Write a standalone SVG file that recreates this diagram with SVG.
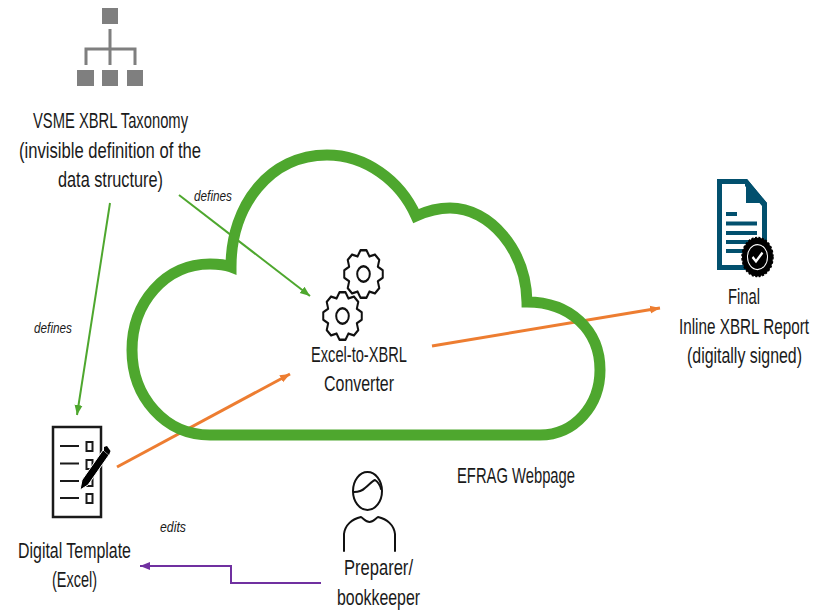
<svg xmlns="http://www.w3.org/2000/svg" width="823" height="610" viewBox="0 0 823 610">
<style>
text{font-family:"Liberation Sans",Arial,sans-serif;font-size:21.5px;fill:#1a1a1a;text-anchor:start}
.i{font-size:15.5px;font-style:italic}
.g{fill:none;stroke:#4ea72e;stroke-width:2}
.o{fill:none;stroke:#ed7d31;stroke-width:3}
.p{fill:none;stroke:#7030a0;stroke-width:2}
.ink{fill:none;stroke:#111;stroke-width:2;stroke-linejoin:round;stroke-linecap:round}
.tx{fill:#7f7f7f}
.doc{fill:#02506e}
</style>
<defs>
<marker id="ag" markerUnits="userSpaceOnUse" markerWidth="11" markerHeight="10" refX="10" refY="5" orient="auto"><path d="M0,1 L10,5 L0,9 Z" fill="#4ea72e"/></marker>
<marker id="ao" markerUnits="userSpaceOnUse" markerWidth="11" markerHeight="10" refX="10" refY="5" orient="auto"><path d="M0,1 L10,5 L0,9 Z" fill="#ed7d31"/></marker>
<marker id="ap" markerUnits="userSpaceOnUse" markerWidth="11" markerHeight="10" refX="10" refY="5" orient="auto"><path d="M0,1 L10,5 L0,9 Z" fill="#7030a0"/></marker>
<g id="gear">
<polygon class="ink" points="19.26,3.05 14.32,5.93 15.78,11.46 11.46,15.78 5.93,14.32 3.05,19.26 -3.05,19.26 -5.93,14.32 -11.46,15.78 -15.78,11.46 -14.32,5.93 -19.26,3.05 -19.26,-3.05 -14.32,-5.93 -15.78,-11.46 -11.46,-15.78 -5.93,-14.32 -3.05,-19.26 3.05,-19.26 5.93,-14.32 11.46,-15.78 15.78,-11.46 14.32,-5.93 19.26,-3.05"/>
<circle class="ink" r="6.3"/>
</g>
</defs>
<g id="connectors">
<path class="g" d="M110,203 L77,415" marker-end="url(#ag)"/>
<path class="g" d="M179,195 L310,296" marker-end="url(#ag)"/>
<path class="o" d="M117,467 L290,374" marker-end="url(#ao)"/>
<path class="o" d="M432,346 L660,308" marker-end="url(#ao)"/>
<path class="p" d="M321,583 H231 V566 H140" marker-end="url(#ap)"/>
</g>
<g id="cloud">
<path fill="none" stroke="#4ea72e" stroke-width="11" stroke-linejoin="miter" stroke-miterlimit="10" d="M210,435 H540 C575,435 600,405 600,370 C600,330 570,302 527,302 C526,250 490,208 450,208 C438,208 427,211 416,216 C400,180 365,155 327,155 C270,155 231,205 231,267 C226,265 215,264 210,264 C165,264 132,303 132,350 C132,397 165,435 210,435 Z"/>
<text transform="translate(457,483) scale(.72,1)" textLength="163.900" lengthAdjust="spacingAndGlyphs">EFRAG Webpage</text>
</g>
<g id="taxonomy">
<rect class="tx" x="102" y="8" width="16" height="16"/>
<rect class="tx" x="77" y="70" width="17" height="16"/>
<rect class="tx" x="102" y="70" width="16" height="16"/>
<rect class="tx" x="127" y="70" width="16" height="16"/>
<path d="M110,29 V65 M86,65 V49 H135 V65" fill="none" stroke="#7f7f7f" stroke-width="3"/>
<text transform="translate(33,128) scale(.72,1)" textLength="215.300" lengthAdjust="spacingAndGlyphs">VSME XBRL Taxonomy</text>
<text transform="translate(19,158) scale(.72,1)" textLength="252.800" lengthAdjust="spacingAndGlyphs">(invisible definition of the</text>
<text transform="translate(58,187) scale(.72,1)" textLength="145.800" lengthAdjust="spacingAndGlyphs">data structure)</text>
</g>
<g id="converter">
<use href="#gear" transform="translate(363.5,274) scale(1,1.23)"/>
<use href="#gear" transform="translate(342.5,316) scale(1,1.23)"/>
<text transform="translate(311,362) scale(.72,1)" textLength="133.300" lengthAdjust="spacingAndGlyphs">Excel-to-XBRL</text>
<text transform="translate(324,391) scale(.72,1)" textLength="97.200" lengthAdjust="spacingAndGlyphs">Converter</text>
</g>
<g id="report">
<path class="doc" fill-rule="evenodd" d="M717,179 H747 L767,203 V270 H717 Z M722,184 V265 H762 V206 L745,186 V184 Z"/>
<path class="doc" fill-rule="evenodd" d="M745,184 L767,206 V203 L747,179 Z M746,186 V203 H761 Z" />
<rect class="doc" x="726" y="212" width="11" height="4"/>
<rect class="doc" x="726" y="221.500" width="31" height="4"/>
<rect class="doc" x="726" y="231" width="31" height="4"/>
<rect class="doc" x="726" y="240" width="31" height="4"/>
<rect class="doc" x="726" y="249" width="31" height="4"/>
<g transform="translate(757.500,257) scale(1,1.25)">
<circle r="15.500" fill="#000" stroke="#000" stroke-width="1.500" stroke-dasharray="2 1.500"/>
<circle r="10" fill="none" stroke="#fff" stroke-width="1"/>
<path d="M-5,0 L-1.500,3.500 L5,-3.500" fill="none" stroke="#fff" stroke-width="2.200"/>
</g>
<text transform="translate(728,304) scale(.72,1)" textLength="44.400" lengthAdjust="spacingAndGlyphs">Final</text>
<text transform="translate(679,334) scale(.72,1)" textLength="180.600" lengthAdjust="spacingAndGlyphs">Inline XBRL Report</text>
<text transform="translate(687,363) scale(.72,1)" textLength="159.700" lengthAdjust="spacingAndGlyphs">(digitally signed)</text>
</g>
<g id="template">
<rect x="53" y="427" width="48" height="90" fill="none" stroke="#1a1a1a" stroke-width="2.500"/>
<path d="M60,446 H79 M60,463.500 H79 M60,481 H79 M60,498 H79" fill="none" stroke="#1a1a1a" stroke-width="2"/>
<path d="M86.500,442 H92.500 V451 H86.500 Z M86.500,460 H92.500 V469 H86.500 Z M86.500,477 H92.500 V486 H86.500 Z M86.500,494 H92.500 V503 H86.500 Z" fill="none" stroke="#1a1a1a" stroke-width="2"/>
<path d="M80,490 L82,480 L103,450 L109,455 L88,485 Z" fill="#000" stroke="#fff" stroke-width="1"/>
<path d="M104,447 L107,446 L110.500,451 L109,455 L104,451 Z" fill="#000"/>
<text transform="translate(18,558) scale(.72,1)" textLength="156.900" lengthAdjust="spacingAndGlyphs">Digital Template</text>
<text transform="translate(52,587) scale(.72,1)" textLength="62.500" lengthAdjust="spacingAndGlyphs">(Excel)</text>
</g>
<g id="preparer">
<ellipse class="ink" cx="367.500" cy="491" rx="14.500" ry="19"/>
<path class="ink" d="M354,492 C358,492 362,491 365,488 C369,485 372,481 375,480 C378,482 380,485 381,489"/>
<path class="ink" d="M344,551 V534 C345,525 352,519 361,517 C364,519 366,522 369.500,522 C373,522 375,519 378,517 C387,519 394,525 395,534 V551"/>
<text transform="translate(344,575) scale(.72,1)" textLength="95.800" lengthAdjust="spacingAndGlyphs">Preparer/</text>
<text transform="translate(337,605) scale(.72,1)" textLength="115.300" lengthAdjust="spacingAndGlyphs">bookkeeper</text>
</g>
<g id="labels">
<text class="i" transform="translate(194,201) scale(.8,1)" textLength="47.500" lengthAdjust="spacingAndGlyphs">defines</text>
<text class="i" transform="translate(34,333) scale(.8,1)" textLength="47.500" lengthAdjust="spacingAndGlyphs">defines</text>
<text class="i" transform="translate(160,532) scale(.8,1)" textLength="32.500" lengthAdjust="spacingAndGlyphs">edits</text>
</g>
</svg>
